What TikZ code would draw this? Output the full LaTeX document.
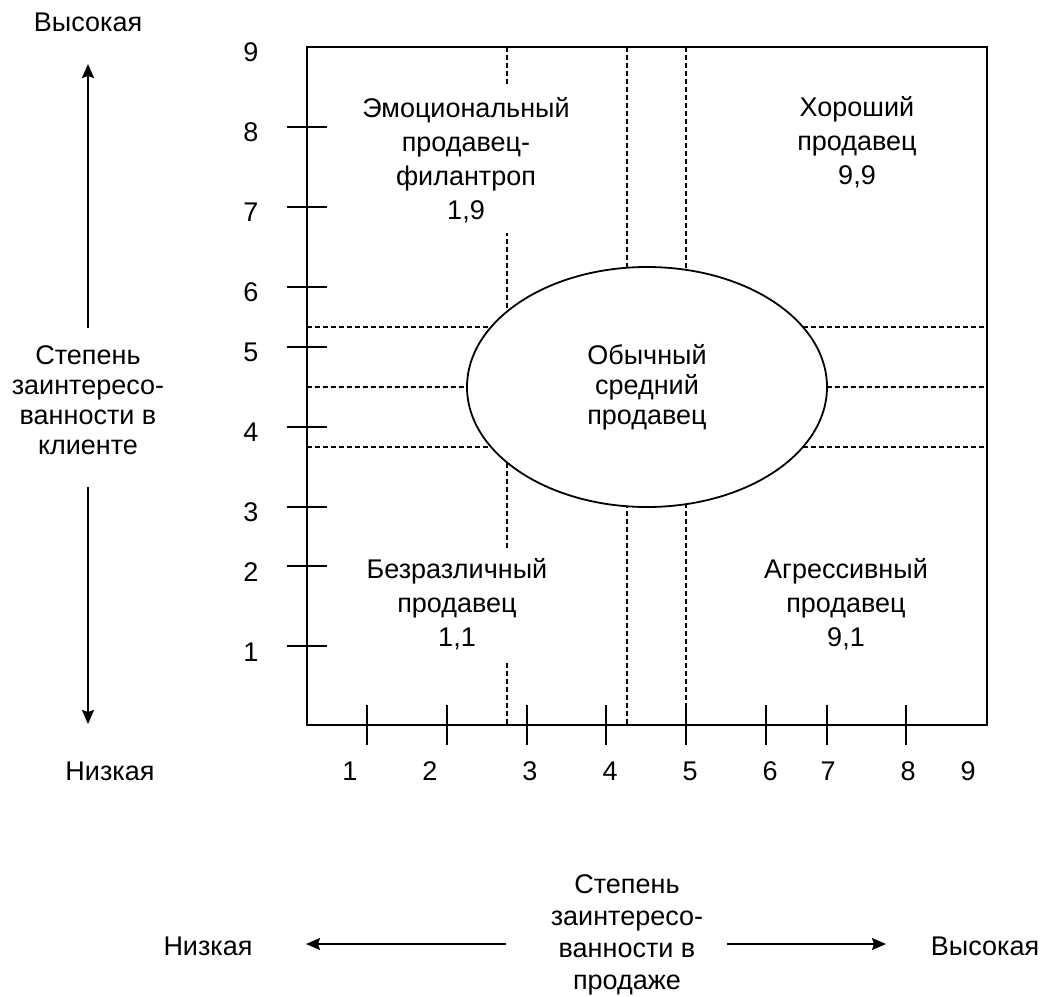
\documentclass[tikz,border=0pt]{standalone}
\usepackage{fontspec}
\setmainfont{Liberation Sans}
\usetikzlibrary{calc, shapes.geometric, positioning, arrows.meta}

\begin{document}
\begin{tikzpicture}[>={Stealth[length=7pt, width=6pt, inset=1pt]}, x=0.5pt, y=-0.5pt,
    txt/.style={font=\fontsize{13.5}{17}\selectfont, align=center, inner sep=0pt},
    quad/.style={txt, fill=white, inner sep=5pt},
    num/.style={font=\fontsize{13.5}{15}\selectfont, inner sep=0pt},
    grid/.style={line width=0.6pt, dash pattern=on 2.5pt off 1.5pt},
    tick/.style={line width=0.9pt},
    axisarrow/.style={->, line width=0.9pt}]

    % ---------------------------------------------------------------
    % 1. Frame corners
    % ---------------------------------------------------------------
    \useasboundingbox (0,0) rectangle (1043,996);
    \coordinate (TL) at (307,47);
    \coordinate (TR) at (987,47);
    \coordinate (BR) at (987,725);
    \coordinate (BL) at (307,725);

    % ---------------------------------------------------------------
    % 2. Dashed grid lines (vertical and horizontal)
    % ---------------------------------------------------------------
    \foreach \gx in {507, 627, 686}
        \draw[grid] (\gx,47) -- (\gx,725);
    \foreach \gy in {327, 387, 447}
        \draw[grid] (307,\gy) -- (987,\gy);

    % ---------------------------------------------------------------
    % 3. Frame and ticks
    % ---------------------------------------------------------------
    \draw[line width=1.2pt] (TL) -- (TR) -- (BR) -- (BL) -- cycle;

    % ticks on the left side with their values
    \foreach \ty/\ly/\v in {127/132/8, 207/212/7, 287/292/6, 347/352/5,
                            427/432/4, 507/512/3, 566/572/2, 646/652/1} {
        \draw[tick] (287,\ty) -- (327,\ty);
        \node[num] (ly\v) at (251,\ly) {\v};
    }
    \node[num] (ly9) at (251,52) {9};

    % ticks on the bottom side with their values
    \foreach \tx/\lx/\v in {367/350/1, 447/430/2, 527/530/3, 606/610/4,
                            686/690/5, 766/770/6, 827/828/7, 906/908/8} {
        \draw[tick] (\tx,705) -- (\tx,745);
        \node[num, anchor=base] (lx\v) at (\lx,780) {\v};
    }
    \node[num, anchor=base] (lx9) at (968,780) {9};

    % ---------------------------------------------------------------
    % 4. Quadrant labels and the ellipse in the middle
    % ---------------------------------------------------------------
    \node[quad] (emo) at (466,160)
        {Эмоциональный\\продавец-\\филантроп\\1,9};
    \node[txt] (good) at (857,142) {Хороший\\продавец\\9,9};
    \node[quad] (indiff) at (457,604) {Безразличный\\продавец\\1,1};
    \node[txt] (aggr) at (846,604) {Агрессивный\\продавец\\9,1};

    \node[ellipse, draw, fill=white, line width=0.9pt,
          minimum width=180pt, minimum height=120pt, inner sep=0pt,
          font=\fontsize{13.5}{15}\selectfont, align=center]
        (avg) at (647,387) {Обычный\\средний\\продавец};

    % ---------------------------------------------------------------
    % 5. Axis captions and arrows
    % ---------------------------------------------------------------
    \node[txt] (yhigh) at (88,22) {Высокая};
    \node[txt] (ylow) at (110,771) {Низкая};
    \node[txt, font=\fontsize{13.5}{15}\selectfont] (ycap) at (88,400)
        {Степень\\заинтересо-\\ванности в\\клиенте};

    \node[txt] (xlow) at (208,946) {Низкая};
    \node[txt] (xhigh) at (985,946) {Высокая};
    \node[txt, font=\fontsize{13.5}{16}\selectfont] (xcap) at (627,935)
        {Степень\\заинтересо-\\ванности в\\продаже};

    \coordinate (yup0) at (88,328);
    \coordinate (yup1) at (88,64);
    \coordinate (ydn0) at (88,487);
    \coordinate (ydn1) at (88,724);
    \coordinate (xl0) at (506,944);
    \coordinate (xl1) at (306,944);
    \coordinate (xr0) at (727,944);
    \coordinate (xr1) at (886,944);

    \draw[axisarrow] (yup0) -- (yup1);
    \draw[axisarrow] (ydn0) -- (ydn1);
    \draw[axisarrow] (xl0) -- (xl1);
    \draw[axisarrow] (xr0) -- (xr1);

\end{tikzpicture}
\end{document}
